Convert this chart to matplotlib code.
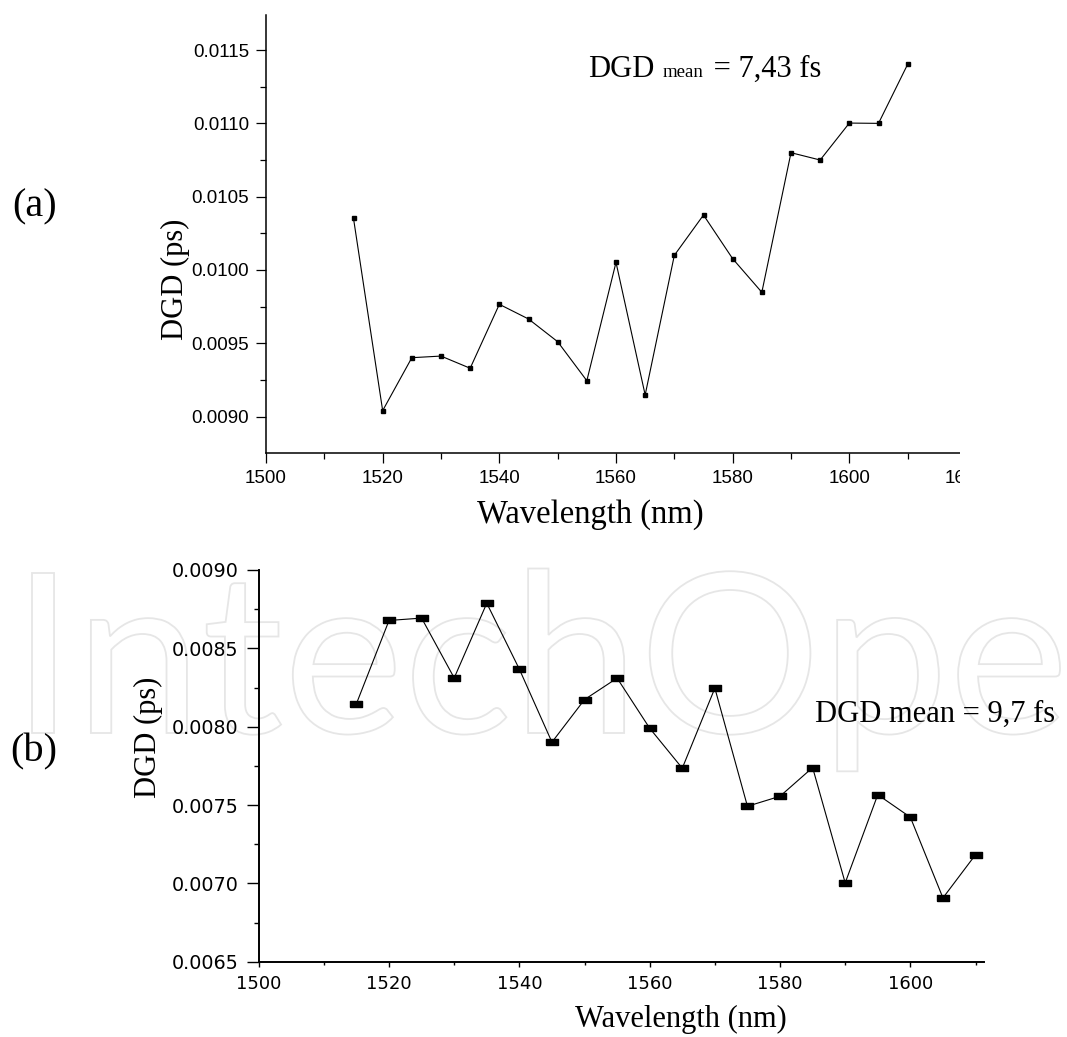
import matplotlib
matplotlib.use('Agg')
import matplotlib.pyplot as plt
from matplotlib.ticker import MultipleLocator, FormatStrFormatter
from matplotlib.textpath import TextPath
from matplotlib.patches import PathPatch, Rectangle
from matplotlib.font_manager import FontProperties
from matplotlib.path import Path
import matplotlib.transforms as mtransforms

# wavelength points (nm), same for both panels
wavelength = [1515, 1520, 1525, 1530, 1535, 1540, 1545, 1550, 1555, 1560,
              1565, 1570, 1575, 1580, 1585, 1590, 1595, 1600, 1605, 1610]

# (a) DGD in ps
dgd_a = [0.010352, 0.009041, 0.009402, 0.009413, 0.009330, 0.009766, 0.009666,
         0.009511, 0.009245, 0.010052, 0.009148, 0.010100, 0.010375, 0.010077,
         0.009848, 0.010800, 0.010750, 0.011002, 0.011000, 0.011403]

# (b) DGD in ps
dgd_b = [0.008147, 0.008678, 0.008693, 0.008311, 0.008788, 0.008367, 0.007901,
         0.008173, 0.008310, 0.007990, 0.007735, 0.008246, 0.007492, 0.007556,
         0.007739, 0.007003, 0.007566, 0.007422, 0.006907, 0.007183]

label_a = "(a)"
label_b = "(b)"
xlabel = "Wavelength (nm)"
ylabel = "DGD (ps)"
note_b = "DGD mean = 9,7 fs"

W, H = 1067, 1037
serif = 'Liberation Serif'


def fx(px):
    return px / W


def fy(py):
    return 1 - py / H


fig = plt.figure(figsize=(W / 100, H / 100), dpi=100)

# faint watermark behind the lower panel
wm_font = FontProperties(family=['Lato', 'DejaVu Sans'], weight='normal')
tp = TextPath((0, 0), "IntechOpen", size=100, prop=wm_font)
ib = TextPath((0, 0), "I", size=100, prop=wm_font).get_extents()
eb = TextPath((0, 0), "IntechOpe", size=100, prop=wm_font).get_extents()
sx = (1060 - 32) / (eb.x1 - ib.x0)
sy = 160 / (ib.y1 - ib.y0)
tr = (mtransforms.Affine2D().translate(-ib.x0, 0).scale(sx / W, sy / H)
      .translate(fx(32), fy(733)) + fig.transFigure)
fig.add_artist(PathPatch(tp, transform=tr, fc='none', ec='#e6e6e6', lw=1.3, zorder=-1))

# ---------------- panel (a) ----------------
ax1 = fig.add_axes([fx(266), fy(453), fx(966) - fx(266), fy(15) - fy(453)])
ax1.set_facecolor('none')
ax1.plot(wavelength, dgd_a, color='black', lw=0.8, marker='s', ms=3.2,
         mfc='black', mec='black')
ax1.set_xlim(1500, 1620)
ax1.set_ylim(0.008752, 0.011739)
ax1.xaxis.set_major_locator(MultipleLocator(20))
ax1.xaxis.set_minor_locator(MultipleLocator(10))
ax1.yaxis.set_major_locator(MultipleLocator(0.0005))
ax1.yaxis.set_minor_locator(MultipleLocator(0.00025))
ax1.yaxis.set_major_formatter(FormatStrFormatter('%.4f'))
ax1.spines['top'].set_visible(False)
ax1.spines['right'].set_visible(False)
for s in ['left', 'bottom']:
    ax1.spines[s].set_linewidth(1.1)
ax1.tick_params(which='major', direction='out', length=7.2, width=0.9, pad=5,
                labelsize=13.5, labelfontfamily='Liberation Sans')
ax1.tick_params(which='minor', direction='out', length=4, width=0.9)

fig.text(fx(12), fy(207), label_a, fontsize=29, family=serif, ha='left', va='center')
fig.text(fx(175), fy(279), ylabel, fontsize=22, family=serif, rotation=90,
         ha='center', va='center')
fig.text(fx(590), fy(523), xlabel, fontsize=23.5, family=serif, ha='center', va='baseline')

# "DGD mean = 7,43 fs" with small "mean"
r = fig.canvas.get_renderer()
t1 = fig.text(fx(588), fy(77), "DGD", fontsize=22, family=serif, va='baseline')
bb = t1.get_window_extent(r)
t2 = fig.text((bb.x1 + 8) / W, fy(77), "mean", fontsize=13.5, family=serif, va='baseline')
bb = t2.get_window_extent(r)
fig.text((bb.x1 + 3) / W, fy(77), " = 7,43 fs", fontsize=22, family=serif, va='baseline')

# image of panel (a) is cut on the right
fig.add_artist(Rectangle((fx(960), fy(545)), fx(W) - fx(960), fy(0) - fy(545),
                         transform=fig.transFigure, fc='white', ec='none', zorder=20))

# ---------------- panel (b) ----------------
rect = Path([(-0.5, -0.3), (0.5, -0.3), (0.5, 0.3), (-0.5, 0.3), (-0.5, -0.3)])
ax2 = fig.add_axes([fx(258.7), fy(961.7), fx(984) - fx(258.7), fy(570) - fy(961.7)])
ax2.set_facecolor('none')
ax2.plot(wavelength, dgd_b, color='black', lw=0.8, marker=rect, ms=8,
         mfc='black', mec='black')
ax2.set_xlim(1500, 1611.3)
ax2.set_ylim(0.0065, 0.0090)
ax2.xaxis.set_major_locator(MultipleLocator(20))
ax2.xaxis.set_minor_locator(MultipleLocator(10))
ax2.yaxis.set_major_locator(MultipleLocator(0.0005))
ax2.yaxis.set_minor_locator(MultipleLocator(0.00025))
ax2.yaxis.set_major_formatter(FormatStrFormatter('%.4f'))
ax2.spines['top'].set_visible(False)
ax2.spines['right'].set_visible(False)
for s in ['left', 'bottom']:
    ax2.spines[s].set_linewidth(1.4)
ax2.tick_params(axis='x', which='major', direction='out', length=3.6, width=1, pad=6,
                labelsize=13, labelfontfamily='DejaVu Sans')
ax2.tick_params(axis='x', which='minor', direction='out', length=2.2, width=1)
ax2.tick_params(axis='y', which='major', direction='out', length=8.6, width=1, pad=6,
                labelsize=13.8, labelfontfamily='DejaVu Sans')
ax2.tick_params(axis='y', which='minor', direction='out', length=3.6, width=1)

fig.text(fx(10), fy(752), label_b, fontsize=29, family=serif, ha='left', va='center')
fig.text(fx(148), fy(737), ylabel, fontsize=22, family=serif, rotation=90,
         ha='center', va='center')
fig.text(fx(681), fy(1027), xlabel, fontsize=22, family=serif, ha='center', va='baseline')
fig.text(fx(815), fy(722), note_b, fontsize=22, family=serif, va='baseline')

fig.savefig('out.png', dpi=100)
